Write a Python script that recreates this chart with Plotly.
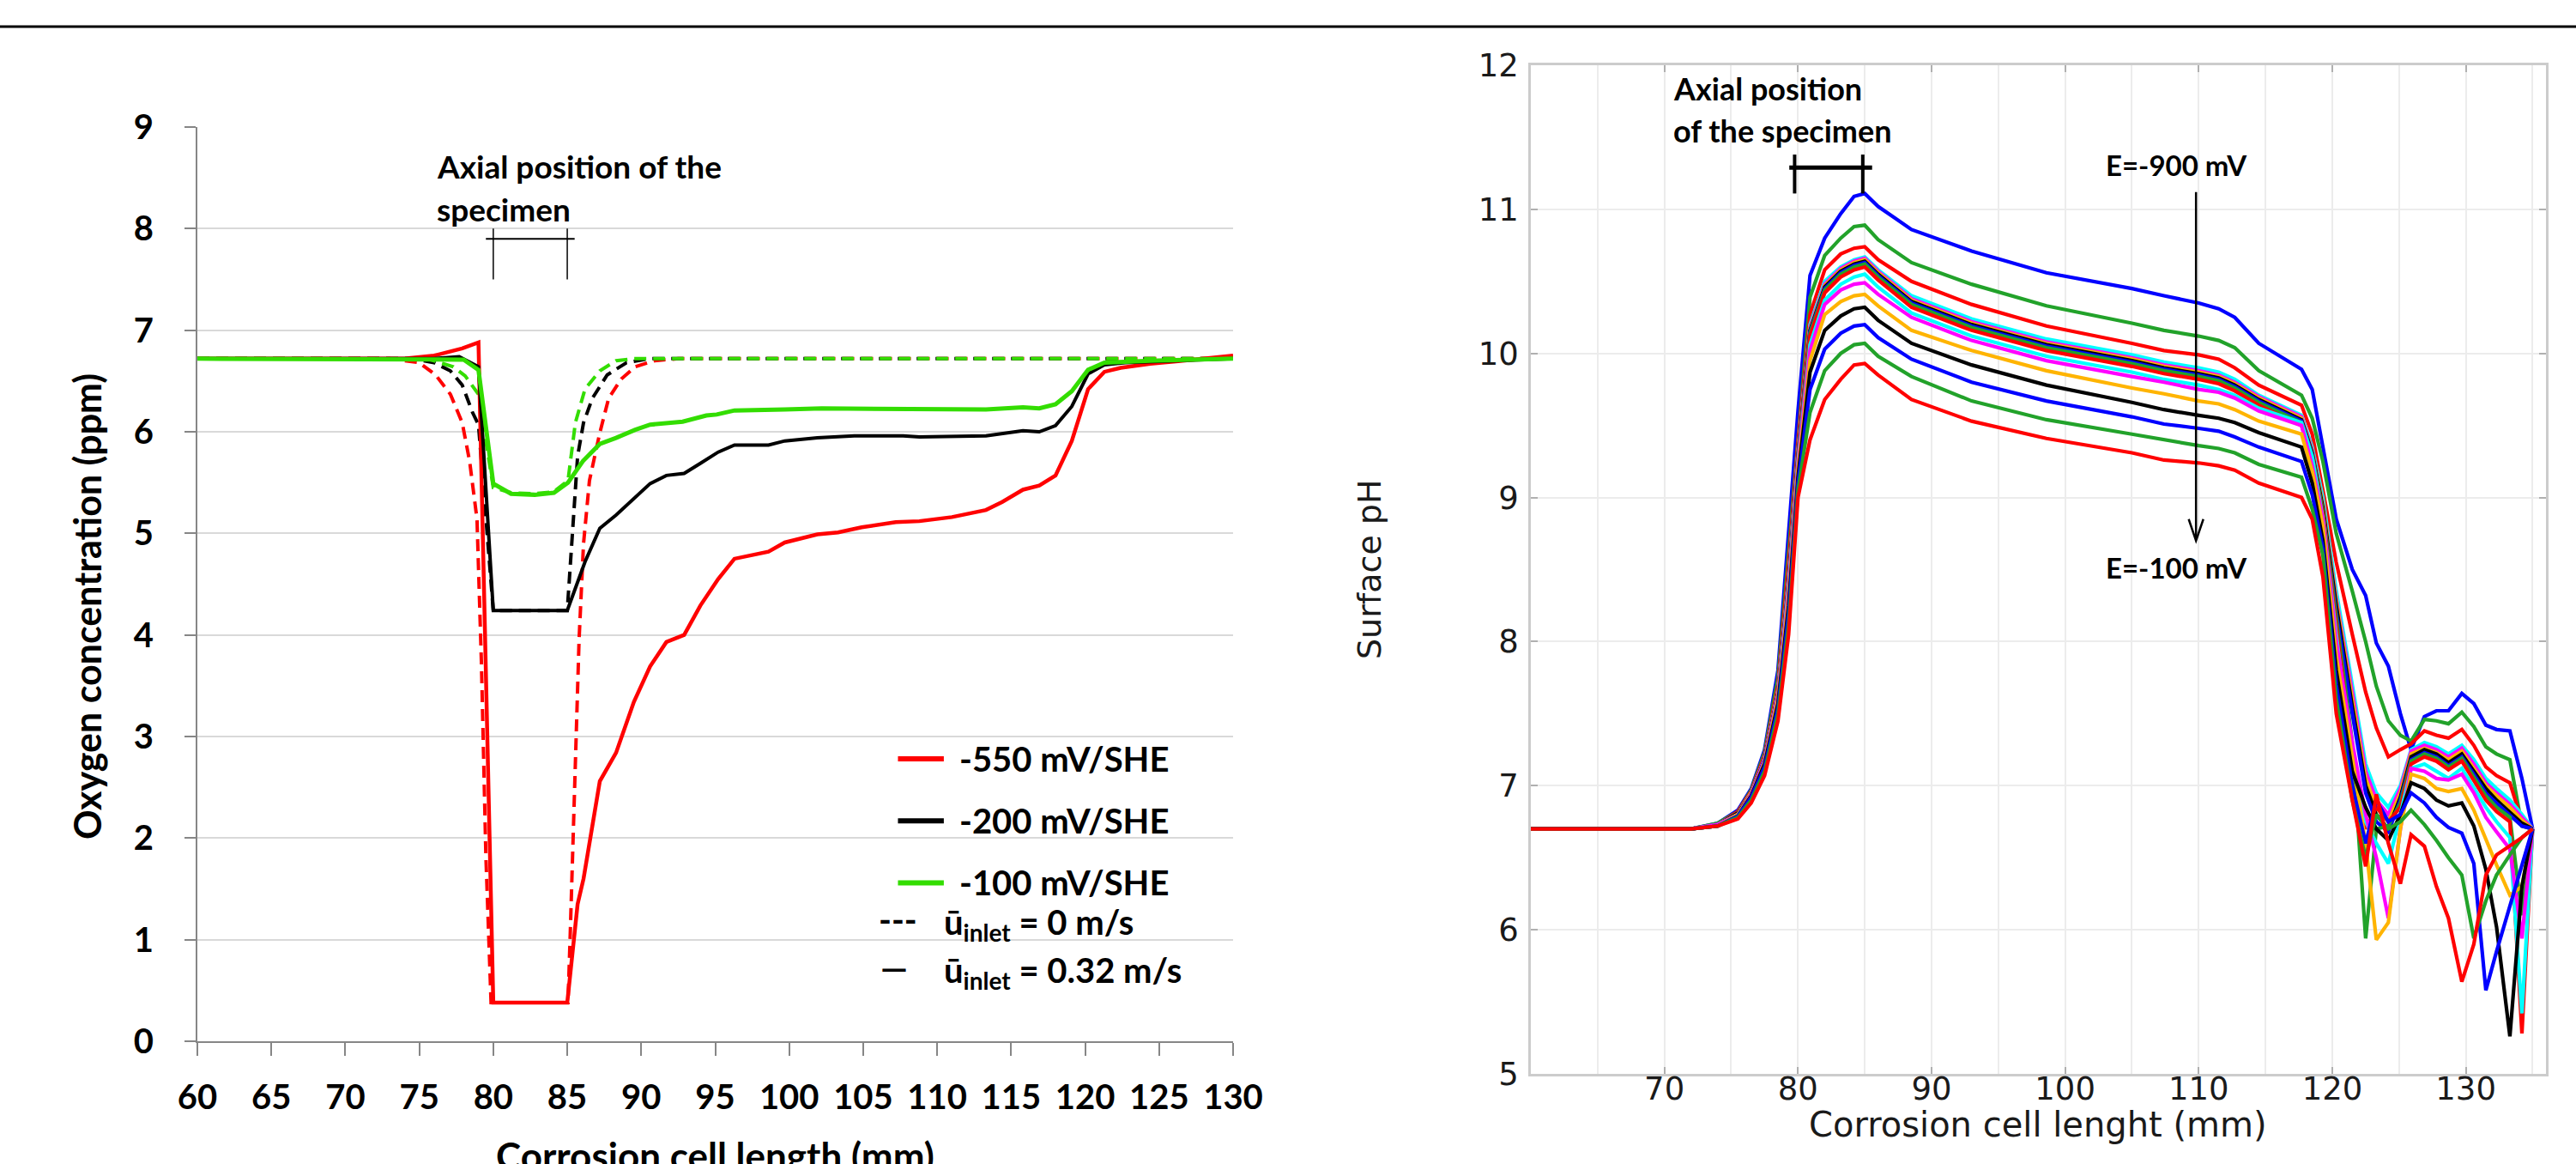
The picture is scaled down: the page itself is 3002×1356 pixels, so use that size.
import plotly.graph_objects as go

W, H = 3002, 1356

# ---------------- Left panel: oxygen concentration (ppm) ----------------
O2_XTICKS = [60, 65, 70, 75, 80, 85, 90, 95, 100, 105, 110, 115, 120, 125, 130]
O2_YTICKS = [0, 1, 2, 3, 4, 5, 6, 7, 8, 9]

RED_SOLID_X = [60, 74, 76, 77.9, 79, 80, 85, 85.7, 86.1, 87.2, 88.3, 89.5, 90.6, 91.7, 92.9, 94.0, 95.2,
               96.3, 98.6, 99.7, 101.9, 103.3, 104.9, 107.2, 108.8, 111.0, 113.3, 114.4, 115.8, 116.9,
               118.0, 119.1, 120.2, 121.3, 122.4, 124.4, 126.6, 130]
RED_SOLID_Y = [6.72, 6.72, 6.75, 6.82, 6.88, 0.38, 0.38, 1.35, 1.60, 2.56, 2.84, 3.34, 3.69, 3.93, 4.00, 4.29,
               4.55, 4.75, 4.82, 4.91, 4.99, 5.01, 5.06, 5.11, 5.12, 5.16, 5.23, 5.31, 5.43, 5.47, 5.57, 5.91,
               6.42, 6.59, 6.63, 6.67, 6.70, 6.75]

BLACK_SOLID_X = [60, 76, 77.7, 79, 80, 85, 86.2, 87.2, 88.3, 89.6, 90.6, 91.7, 92.9, 94.0, 95.2, 96.3, 98.6,
                 99.7, 101.9, 104.4, 107.7, 108.8, 113.3, 115.8, 116.9, 118.0, 119.1, 120.2, 121.3, 122.7, 130]
BLACK_SOLID_Y = [6.72, 6.72, 6.74, 6.64, 4.24, 4.24, 4.72, 5.05, 5.18, 5.36, 5.49, 5.57, 5.59, 5.69, 5.80, 5.87,
                 5.87, 5.91, 5.94, 5.96, 5.96, 5.95, 5.96, 6.01, 6.00, 6.06, 6.25, 6.57, 6.66, 6.68, 6.72]

GREEN_SOLID_X = [60, 77, 78, 79, 80, 81.2, 82.8, 84.1, 85.05, 86.05, 87.2, 88.3, 89.6, 90.6, 91.7, 92.8, 94.4,
                 95.1, 96.3, 98.6, 99.7, 102.2, 107.7, 108.8, 113.3, 115.8, 116.9, 118.0, 119.1, 120.2, 121.3,
                 124.4, 130]
GREEN_SOLID_Y = [6.72, 6.72, 6.71, 6.61, 5.49, 5.39, 5.38, 5.40, 5.50, 5.71, 5.88, 5.94, 6.02, 6.07, 6.09, 6.10,
                 6.16, 6.17, 6.21, 6.21, 6.22, 6.23, 6.23, 6.22, 6.22, 6.24, 6.23, 6.27, 6.40, 6.61, 6.68, 6.70,
                 6.72]

RED_DASH_X = [60, 73, 75.0, 76.1, 77.1, 77.9, 78.4, 78.9, 79.2, 79.5, 79.85, 85.05, 85.2, 85.55, 85.8, 86.1,
              86.5, 87.2, 87.8, 88.65, 89.6, 90.9, 92.5, 130]
RED_DASH_Y = [6.72, 6.72, 6.68, 6.56, 6.37, 6.09, 5.71, 5.14, 3.72, 1.82, 0.38, 0.38, 1.05, 2.77, 3.96, 4.90,
              5.52, 5.99, 6.33, 6.52, 6.64, 6.70, 6.72, 6.72]

BLACK_DASH_X = [60, 74.5, 76.0, 77.1, 77.9, 78.6, 79.0, 80.0, 85.0, 85.4, 85.7, 86.1, 86.7, 87.7, 89.0, 90.5, 130]
BLACK_DASH_Y = [6.72, 6.72, 6.68, 6.60, 6.46, 6.19, 6.07, 4.24, 4.24, 5.14, 5.76, 6.09, 6.33, 6.56, 6.68, 6.72,
                6.72]

GREEN_DASH_X = [60, 75.5, 77.3, 78.1, 79.0, 80.0, 81.2, 82.8, 84.1, 85.05, 85.55, 86.2, 87.2, 88.3, 89.5, 130]
GREEN_DASH_Y = [6.72, 6.72, 6.64, 6.55, 6.37, 5.45, 5.40, 5.39, 5.41, 5.52, 6.09, 6.42, 6.60, 6.70, 6.72, 6.72]

O2_LEGEND = ["-550 mV/SHE", "-200 mV/SHE", "-100 mV/SHE"]
O2_COLORS = ["#ff0000", "#000000", "#33dd00"]

# ---------------- Right panel: surface pH ----------------
PH_XTICKS = [70, 80, 90, 100, 110, 120, 130]
PH_YTICKS = [5, 6, 7, 8, 9, 10, 11, 12]

PH_X = [60, 72, 74, 75.5, 76.5, 77.5, 78.5, 79.3, 80, 80.9, 82, 83.2, 84.2, 85, 86, 88.5, 93, 98.6, 105,
        107.4, 110, 111.5, 112.7, 114.5, 117.7, 118.5, 119.3, 120.3, 121.5, 122.5, 123.3, 124.2, 125.1,
        125.9, 126.9, 127.8, 128.7, 129.7, 130.6, 131.5, 132.3, 133.3, 134.2, 135]

PH_M900 = [6.70, 6.70, 6.74, 6.83, 6.98, 7.25, 7.80, 8.76, 9.60, 10.54, 10.80, 10.97, 11.09, 11.11, 11.02,
           10.86, 10.71, 10.56, 10.45, 10.40, 10.35, 10.31, 10.25, 10.07, 9.89, 9.75, 9.35, 8.85, 8.50, 8.32,
           7.99, 7.83, 7.50, 7.25, 7.48, 7.52, 7.52, 7.64, 7.57, 7.42, 7.39, 7.38, 7.05, 6.70]
PH_M850 = [6.70, 6.70, 6.74, 6.82, 6.97, 7.23, 7.75, 8.65, 9.45, 10.39, 10.68, 10.80, 10.88, 10.89, 10.79,
           10.63, 10.48, 10.33, 10.21, 10.16, 10.12, 10.09, 10.04, 9.88, 9.71, 9.55, 9.25, 8.75, 8.35, 8.00,
           7.69, 7.45, 7.35, 7.31, 7.46, 7.45, 7.43, 7.51, 7.41, 7.27, 7.22, 7.18, 6.72, 6.70]
PH_M800 = [6.70, 6.70, 6.73, 6.82, 6.96, 7.21, 7.70, 8.55, 9.38, 10.27, 10.58, 10.69, 10.73, 10.74, 10.65,
           10.50, 10.34, 10.19, 10.07, 10.02, 9.99, 9.96, 9.90, 9.78, 9.64, 9.44, 9.05, 8.55, 8.05, 7.65,
           7.40, 7.20, 7.25, 7.29, 7.38, 7.35, 7.33, 7.39, 7.28, 7.13, 7.07, 7.02, 6.75, 6.70]
PH_M750 = [6.70, 6.70, 6.73, 6.81, 6.95, 7.19, 7.66, 8.45, 9.32, 10.20, 10.50, 10.60, 10.65, 10.67, 10.58,
           10.40, 10.24, 10.10, 9.99, 9.94, 9.90, 9.87, 9.82, 9.71, 9.57, 9.35, 9.00, 8.35, 7.70, 7.15,
           6.95, 6.85, 7.00, 7.25, 7.30, 7.27, 7.22, 7.28, 7.18, 7.05, 6.98, 6.90, 6.80, 6.70]
PH_M700 = [6.70, 6.70, 6.73, 6.81, 6.95, 7.19, 7.65, 8.44, 9.31, 10.18, 10.48, 10.59, 10.64, 10.66, 10.57,
           10.38, 10.22, 10.08, 9.97, 9.92, 9.88, 9.85, 9.80, 9.70, 9.56, 9.33, 8.95, 8.30, 7.65, 7.10,
           6.90, 6.80, 6.98, 7.24, 7.28, 7.25, 7.20, 7.26, 7.15, 7.02, 6.95, 6.87, 6.78, 6.70]
PH_M650 = [6.70, 6.70, 6.73, 6.81, 6.95, 7.18, 7.65, 8.43, 9.30, 10.17, 10.47, 10.58, 10.63, 10.65, 10.56,
           10.37, 10.21, 10.07, 9.96, 9.91, 9.87, 9.84, 9.79, 9.69, 9.55, 9.32, 8.95, 8.28, 7.60, 7.05,
           6.85, 6.75, 6.95, 7.22, 7.26, 7.23, 7.18, 7.24, 7.12, 7.00, 6.93, 6.85, 6.76, 6.70]
PH_M600 = [6.70, 6.70, 6.73, 6.81, 6.94, 7.18, 7.64, 8.42, 9.29, 10.16, 10.46, 10.57, 10.62, 10.64, 10.55,
           10.36, 10.20, 10.06, 9.95, 9.90, 9.86, 9.83, 9.78, 9.68, 9.54, 9.31, 8.93, 8.25, 7.55, 7.00,
           6.80, 6.70, 6.92, 7.20, 7.25, 7.22, 7.16, 7.22, 7.10, 6.98, 6.90, 6.82, 6.74, 6.70]
PH_M550 = [6.70, 6.70, 6.73, 6.80, 6.94, 7.18, 7.64, 8.41, 9.28, 10.15, 10.45, 10.56, 10.61, 10.63, 10.54,
           10.35, 10.19, 10.05, 9.94, 9.89, 9.85, 9.82, 9.77, 9.67, 9.53, 9.30, 8.90, 8.20, 7.50, 6.95,
           6.75, 6.68, 6.90, 7.18, 7.23, 7.20, 7.14, 7.20, 7.08, 6.95, 6.88, 6.80, 6.72, 6.70]
PH_M500 = [6.70, 6.70, 6.73, 6.80, 6.94, 7.17, 7.63, 8.40, 9.27, 10.14, 10.44, 10.55, 10.60, 10.62, 10.53,
           10.34, 10.18, 10.04, 9.93, 9.88, 9.84, 9.81, 9.76, 9.66, 9.52, 9.29, 8.90, 8.15, 7.30, 5.94,
           6.70, 6.72, 6.88, 7.17, 7.22, 7.19, 7.13, 7.19, 7.06, 6.93, 6.85, 6.78, 6.10, 6.70]
PH_M450 = [6.70, 6.70, 6.73, 6.80, 6.94, 7.17, 7.63, 8.39, 9.26, 10.12, 10.42, 10.53, 10.58, 10.60, 10.51,
           10.32, 10.16, 10.02, 9.91, 9.86, 9.82, 9.79, 9.74, 9.64, 9.50, 9.27, 8.88, 8.10, 7.20, 6.70,
           6.85, 6.75, 6.85, 7.15, 7.20, 7.17, 7.11, 7.17, 7.04, 6.90, 6.82, 6.75, 5.28, 6.70]
PH_M400 = [6.70, 6.70, 6.73, 6.80, 6.94, 7.17, 7.62, 8.38, 9.24, 10.06, 10.37, 10.48, 10.53, 10.55, 10.46,
           10.28, 10.12, 9.98, 9.87, 9.82, 9.78, 9.75, 9.71, 9.62, 9.52, 9.28, 8.85, 8.05, 7.15, 6.75,
           6.60, 6.46, 6.80, 7.12, 7.15, 7.10, 7.05, 7.12, 6.98, 6.85, 6.75, 6.64, 5.42, 6.70]
PH_M350 = [6.70, 6.70, 6.73, 6.80, 6.94, 7.17, 7.62, 8.35, 9.22, 10.02, 10.34, 10.44, 10.48, 10.49, 10.41,
           10.25, 10.09, 9.95, 9.84, 9.80, 9.75, 9.73, 9.69, 9.60, 9.50, 9.22, 8.85, 8.00, 7.30, 6.80,
           6.50, 6.08, 6.70, 7.12, 7.10, 7.05, 7.04, 7.08, 6.95, 6.78, 6.68, 6.56, 5.94, 6.70]
PH_M300 = [6.70, 6.70, 6.72, 6.80, 6.93, 7.16, 7.60, 8.30, 9.18, 9.95, 10.27, 10.36, 10.40, 10.41, 10.33,
           10.16, 10.02, 9.88, 9.76, 9.72, 9.67, 9.65, 9.61, 9.53, 9.44, 9.18, 8.80, 7.90, 7.20, 6.60,
           5.93, 6.05, 6.70, 7.08, 7.05, 6.98, 6.96, 6.98, 6.83, 6.62, 6.45, 6.24, 6.30, 6.70]
PH_M250 = [6.70, 6.70, 6.72, 6.79, 6.93, 7.15, 7.57, 8.25, 9.14, 9.87, 10.16, 10.26, 10.31, 10.32, 10.23,
           10.07, 9.92, 9.78, 9.66, 9.61, 9.57, 9.55, 9.52, 9.45, 9.35, 9.10, 8.70, 7.80, 7.10, 6.85,
           6.70, 6.62, 6.80, 7.02, 6.98, 6.90, 6.86, 6.88, 6.72, 6.42, 6.02, 5.26, 6.30, 6.70]
PH_M200 = [6.70, 6.70, 6.72, 6.79, 6.92, 7.13, 7.54, 8.20, 9.10, 9.75, 10.03, 10.14, 10.19, 10.20, 10.11,
           9.96, 9.80, 9.67, 9.56, 9.51, 9.48, 9.46, 9.42, 9.35, 9.25, 9.02, 8.65, 7.70, 7.00, 6.60,
           6.90, 6.75, 6.80, 6.95, 6.88, 6.78, 6.71, 6.67, 6.46, 5.58, 5.85, 6.16, 6.45, 6.70]
PH_M150 = [6.70, 6.70, 6.72, 6.78, 6.90, 7.10, 7.50, 8.12, 9.05, 9.59, 9.88, 10.00, 10.06, 10.07, 9.98,
           9.84, 9.67, 9.54, 9.44, 9.40, 9.36, 9.34, 9.31, 9.23, 9.14, 8.92, 8.60, 7.60, 6.90, 6.50,
           6.80, 6.70, 6.75, 6.83, 6.73, 6.62, 6.50, 6.38, 5.94, 6.20, 6.38, 6.52, 6.64, 6.70]
PH_M100 = [6.70, 6.70, 6.72, 6.77, 6.88, 7.07, 7.45, 8.05, 9.00, 9.40, 9.68, 9.82, 9.92, 9.93, 9.85,
           9.68, 9.53, 9.41, 9.31, 9.26, 9.24, 9.22, 9.19, 9.10, 9.00, 8.85, 8.45, 7.50, 6.90, 6.44,
           6.94, 6.60, 6.32, 6.66, 6.58, 6.30, 6.08, 5.64, 5.90, 6.38, 6.52, 6.58, 6.64, 6.70]

PH_SERIES = [PH_M900, PH_M850, PH_M800, PH_M750, PH_M700, PH_M650, PH_M600, PH_M550, PH_M500,
             PH_M450, PH_M400, PH_M350, PH_M300, PH_M250, PH_M200, PH_M150, PH_M100]
PH_POTENTIALS = [-900, -850, -800, -750, -700, -650, -600, -550, -500, -450, -400, -350, -300, -250,
                 -200, -150, -100]
PH_CYCLE = ["#0000ff", "#22a22a", "#ff0000", "#00ffff", "#ff00ff", "#ffb400", "#000000"]

# ---------------- Figure ----------------
def pxx(x):
    return x / W


def pxy(y):
    return 1 - y / H


fig = go.Figure()

LW = {"#ff0000": 4.5, "#000000": 4.0, "#33dd00": 5.0}
for xs, ys, col in [(RED_DASH_X, RED_DASH_Y, O2_COLORS[0]),
                    (BLACK_DASH_X, BLACK_DASH_Y, O2_COLORS[1]),
                    (GREEN_DASH_X, GREEN_DASH_Y, O2_COLORS[2])]:
    fig.add_trace(go.Scatter(x=xs, y=ys, mode="lines", xaxis="x", yaxis="y", showlegend=False,
                             line=dict(color=col, width=4, dash="14px,8px")))
for xs, ys, col, name in [(RED_SOLID_X, RED_SOLID_Y, O2_COLORS[0], O2_LEGEND[0]),
                          (BLACK_SOLID_X, BLACK_SOLID_Y, O2_COLORS[1], O2_LEGEND[1]),
                          (GREEN_SOLID_X, GREEN_SOLID_Y, O2_COLORS[2], O2_LEGEND[2])]:
    fig.add_trace(go.Scatter(x=xs, y=ys, mode="lines", xaxis="x", yaxis="y", showlegend=False, name=name,
                             line=dict(color=col, width=LW[col])))

for i, (ys, e) in enumerate(zip(PH_SERIES, PH_POTENTIALS)):
    fig.add_trace(go.Scatter(x=PH_X, y=ys, mode="lines", xaxis="x2", yaxis="y2", showlegend=False,
                             name=f"E={e} mV", line=dict(color=PH_CYCLE[i % 7], width=4.2)))

BOLD = dict(family="Lato", weight="bold", color="black")
DJ = dict(family="DejaVu Sans", color="#1a1a1a")

fig.update_layout(
    template="none",
    width=W, height=H, autosize=False,
    margin=dict(l=0, r=0, t=0, b=0, pad=0),
    paper_bgcolor="white", plot_bgcolor="white",
    showlegend=False,
    xaxis=dict(domain=[pxx(230), pxx(1437)], range=[60, 130], anchor="y", automargin=False,
               tickmode="array", tickvals=O2_XTICKS, ticktext=[str(v) for v in O2_XTICKS],
               ticks="outside", ticklen=15, tickwidth=2, tickcolor="#868686",
               showline=True, linecolor="#868686", linewidth=2, showgrid=False, zeroline=False,
               tickfont=dict(size=40, **BOLD), ticklabelstandoff=14),
    yaxis=dict(domain=[pxy(1213), pxy(148)], range=[0, 9], anchor="x", automargin=False,
               tickmode="array", tickvals=O2_YTICKS, ticktext=[str(v) for v in O2_YTICKS],
               ticks="outside", ticklen=13, tickwidth=2, tickcolor="#868686",
               showline=True, linecolor="#868686", linewidth=2,
               showgrid=True, gridcolor="#d9d9d9", gridwidth=2, zeroline=False,
               tickfont=dict(size=40, **BOLD), ticklabelstandoff=28),
    xaxis2=dict(domain=[pxx(1784), pxx(2967)], range=[60, 136], anchor="y2", automargin=False,
                tickmode="array", tickvals=PH_XTICKS, ticktext=[str(v) for v in PH_XTICKS],
                ticks="inside", ticklen=8, tickwidth=1.5, tickcolor="#b0b0b0",
                showline=True, mirror="ticks", linecolor="#cccccc", linewidth=2.5,
                showgrid=True, gridcolor="#ececec", gridwidth=1.5, zeroline=False,
                minor=dict(tick0=60, dtick=5, showgrid=True, gridcolor="#ececec", gridwidth=1.5),
                tickfont=dict(size=37, **DJ), ticklabelstandoff=-17),
    yaxis2=dict(domain=[pxy(1251), pxy(76)], range=[5, 12], anchor="x2", automargin=False,
                tickmode="array", tickvals=PH_YTICKS, ticktext=[str(v) for v in PH_YTICKS],
                ticks="inside", ticklen=8, tickwidth=1.5, tickcolor="#b0b0b0",
                showline=True, mirror="ticks", linecolor="#cccccc", linewidth=2.5,
                showgrid=True, gridcolor="#ececec", gridwidth=1.5, zeroline=False,
                tickfont=dict(size=37, **DJ), ticklabelstandoff=4),
)

shapes = []
# page rule at top
shapes.append(dict(type="line", xref="paper", yref="paper", x0=0, x1=1, y0=pxy(31), y1=pxy(31),
                   line=dict(color="black", width=3)))
# left: specimen bracket
shapes.append(dict(type="line", xref="x", yref="y", x0=79.5, x1=85.5, y0=7.90, y1=7.90,
                   line=dict(color="black", width=2)))
for xv in (80, 85):
    shapes.append(dict(type="line", xref="x", yref="y", x0=xv, x1=xv, y0=8.0, y1=7.5,
                       line=dict(color="black", width=1.5)))
# left: legend swatches
for yv, col in zip([2.78, 2.17, 1.56], O2_COLORS):
    shapes.append(dict(type="line", xref="x", yref="y", x0=107.35, x1=110.45, y0=yv, y1=yv,
                       line=dict(color=col, width=6)))
# right: specimen bracket
shapes.append(dict(type="line", xref="x2", yref="y2", x0=79.35, x1=85.55, y0=11.29, y1=11.29,
                   line=dict(color="black", width=5)))
for xv in (79.75, 84.85):
    shapes.append(dict(type="line", xref="x2", yref="y2", x0=xv, x1=xv, y0=11.11, y1=11.38,
                       line=dict(color="black", width=4)))
# right: arrow
shapes.append(dict(type="line", xref="x2", yref="y2", x0=109.8, x1=109.8, y0=11.12, y1=8.71,
                   line=dict(color="black", width=2.5)))
shapes.append(dict(type="path", xref="x2", yref="y2", path="M 109.25,8.85 L 109.8,8.70 L 110.35,8.85",
                   line=dict(color="black", width=2.5)))
fig.update_layout(shapes=shapes)

ann = []


def text_px(x, y, s, size, font, xanchor="left", yanchor="middle", angle=0):
    ann.append(dict(xref="paper", yref="paper", x=pxx(x), y=pxy(y), text=s, showarrow=False,
                    xanchor=xanchor, yanchor=yanchor, textangle=angle,
                    font=dict(size=size, **font)))


# left titles and notes
text_px(101, 707, "Oxygen concentration (ppm)", 43, BOLD, xanchor="center", yanchor="middle", angle=-90)
text_px(833, 1318, "Corrosion cell length (mm)", 44, BOLD, xanchor="center", yanchor="top")
text_px(507, 194, "Axial position of the", 37, BOLD)
text_px(507, 243, "specimen", 37, BOLD)
# left legend
text_px(1116, 884, O2_LEGEND[0], 40, BOLD)
text_px(1116, 956, O2_LEGEND[1], 40, BOLD)
text_px(1116, 1028, O2_LEGEND[2], 40, BOLD)
text_px(1022, 1071, "---", 40, BOLD)
text_px(1098, 1076, "ū<sub>inlet</sub> = 0 m/s", 40, BOLD)
text_px(1024, 1127, "—", 40, BOLD)
text_px(1098, 1132, "ū<sub>inlet</sub> = 0.32 m/s", 40, BOLD)
# right titles and notes
text_px(1596, 663, "Surface pH", 38, DJ, xanchor="center", yanchor="middle", angle=-90)
text_px(2375, 1310, "Corrosion cell lenght (mm)", 40, DJ, xanchor="center", yanchor="middle")
text_px(1948, 103, "Axial position", 36, BOLD)
text_px(1948, 152, "of the specimen", 36, BOLD)
text_px(2536, 192, "E=-900 mV", 33, BOLD, xanchor="center")
text_px(2536, 661, "E=-100 mV", 33, BOLD, xanchor="center")
fig.update_layout(annotations=ann)

fig.write_html("out.html")
